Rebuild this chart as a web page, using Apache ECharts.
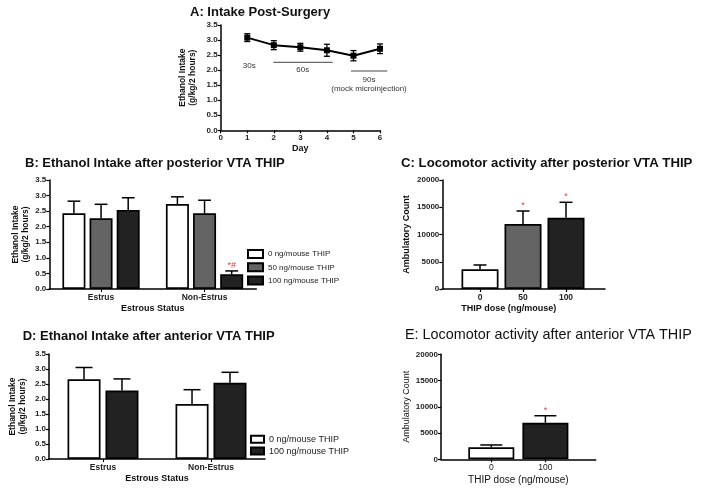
<!DOCTYPE html>
<html><head><meta charset="utf-8">
<script src="https://cdn.jsdelivr.net/npm/echarts@6/dist/echarts.min.js"></script>
<style>html,body{margin:0;padding:0;background:#fff}#c{width:704px;height:493px}</style>
</head><body><div id="c"></div>
<script>
// ---- Panel A: intake post-surgery ----
const daysA = [1, 2, 3, 4, 5, 6];
const intakeA = [3.08, 2.83, 2.76, 2.66, 2.48, 2.71];
const errA = [0.13, 0.15, 0.13, 0.20, 0.17, 0.16];
// ---- Panel B: ethanol intake after posterior VTA THIP ----
const statusCats = ['Estrus', 'Non-Estrus'];
const doseNamesB = ['0 ng/mouse THIP', '50 ng/mouse THIP', '100 ng/mouse THIP'];
const b0 = [2.43, 2.73], b0err = [0.39, 0.23];
const b50 = [2.27, 2.43], b50err = [0.45, 0.42];
const b100 = [2.54, 0.47], b100err = [0.39, 0.11];
const sigB100 = ['', '*#'];
// ---- Panel C: locomotor after posterior VTA THIP ----
const doseCatsC = ['0', '50', '100'];
const locoC = [3615, 11930, 13080];
const locoCerr = [790, 2380, 2830];
const sigC = ['', '*', '*'];
// ---- Panel D: ethanol intake after anterior VTA THIP ----
const doseNamesD = ['0 ng/mouse THIP', '100 ng/mouse THIP'];
const d0 = [2.66, 1.83], d0err = [0.39, 0.48];
const d100 = [2.28, 2.54], d100err = [0.39, 0.35];
// ---- Panel E: locomotor after anterior VTA THIP ----
const doseCatsE = ['0', '100'];
const locoE = [2290, 6970];
const locoEerr = [440, 1330];
const sigE = ['', '*'];

const FONT = 'Liberation Sans, Arial, sans-serif';
const FILL = ['#ffffff', '#646464', '#222222'];
const RED = '#e8403a';

function errRender(offsetPx, capHalf, sig) {
  return function (params, api) {
    const x = api.value(0), v = api.value(1), e = api.value(2);
    const top = api.coord([x, v + e]);
    const base = api.coord([x, v]);
    const cx = top[0] + offsetPx;
    const ls = { stroke: '#000', lineWidth: 1.5 };
    const ch = [
      { type: 'line', shape: { x1: cx, y1: base[1], x2: cx, y2: top[1] }, style: ls },
      { type: 'line', shape: { x1: cx - capHalf, y1: top[1], x2: cx + capHalf, y2: top[1] }, style: ls }
    ];
    const s = sig && sig[params.dataIndex];
    if (s) ch.push({ type: 'text', style: { text: s, x: cx, y: top[1] - 1, align: 'center', verticalAlign: 'bottom', fill: RED, font: '9px ' + FONT } });
    return { type: 'group', children: ch };
  };
}
function errBoth(params, api) {
  const x = api.value(0), v = api.value(1), e = api.value(2);
  const hi = api.coord([x, v + e]), lo = api.coord([x, v - e]);
  const ls = { stroke: '#000', lineWidth: 1.3 };
  return { type: 'group', children: [
    { type: 'line', shape: { x1: hi[0], y1: hi[1], x2: lo[0], y2: lo[1] }, style: ls },
    { type: 'line', shape: { x1: hi[0] - 3, y1: hi[1], x2: hi[0] + 3, y2: hi[1] }, style: ls },
    { type: 'line', shape: { x1: lo[0] - 3, y1: lo[1], x2: lo[0] + 3, y2: lo[1] }, style: ls }
  ] };
}

const axLine = { show: true, onZero: false, lineStyle: { color: '#000', width: 1.5 } };
const axTick = { show: true, length: 3, lineStyle: { color: '#000', width: 1.2 } };
const lblB = { fontFamily: FONT, fontWeight: 'bold', fontSize: 8, color: '#222', margin: 3 };
const nameB = (size, weight) => ({ fontFamily: FONT, fontWeight: weight || 'bold', fontSize: size, color: '#111', lineHeight: size + 1.5 });
const fmt1 = v => v.toFixed(1);
const fmt0 = v => String(v);

function yAx(gi, max, interval, name, gap, nsize, nweight, f) {
  return { type: 'value', gridIndex: gi, min: 0, max: max, interval: interval,
    axisLine: axLine, axisTick: axTick, splitLine: { show: false },
    axisLabel: Object.assign({}, lblB, { formatter: f }), name: name, nameLocation: 'middle', nameGap: gap, nameRotate: 90,
    nameTextStyle: nameB(nsize || 8.5, nweight) };
}

const grids = [
  { left: 220.7, top: 25, width: 159.3, height: 105.3 },
  { left: 49.3, top: 180, width: 207, height: 109 },
  { left: 442.3, top: 180, width: 162.7, height: 109 },
  { left: 49, top: 354, width: 216, height: 105 },
  { left: 441, top: 354.3, width: 154.7, height: 105 }
].map(g => Object.assign(g, { containLabel: false, outerBoundsMode: 'none' }));

const tStyle = (size, weight) => ({ fontFamily: FONT, fontWeight: weight, fontSize: size, color: '#111' });
const option = {
  animation: false,
  backgroundColor: '#fff',
  title: [
    { text: 'A: Intake Post-Surgery', left: 190, top: 6, padding: 0, textStyle: tStyle(13, 'bold') },
    { text: 'B: Ethanol Intake after posterior VTA THIP', left: 25, top: 157, padding: 0, textStyle: tStyle(13, 'bold') },
    { text: 'C: Locomotor activity after posterior VTA THIP', left: 401, top: 157, padding: 0, textStyle: tStyle(13.2, 'bold') },
    { text: 'D: Ethanol Intake after anterior VTA THIP', left: 22.7, top: 329.5, padding: 0, textStyle: tStyle(13, 'bold') },
    { text: 'E: Locomotor activity after anterior VTA THIP', left: 405, top: 328.5, padding: 0, textStyle: tStyle(14.4, 'normal') }
  ],
  legend: [
    { data: doseNamesB, orient: 'vertical', left: 247, top: 248.5, itemWidth: 15, itemHeight: 8, itemGap: 2.3, icon: 'rect',
      textStyle: { fontFamily: FONT, fontSize: 8, color: '#222', lineHeight: 11 }, selectedMode: false, padding: 0 },
    { data: doseNamesD.map(n => n + ' '), orient: 'vertical', left: 250, top: 434, itemWidth: 13, itemHeight: 7, itemGap: 1, icon: 'rect',
      textStyle: { fontFamily: FONT, fontSize: 9, color: '#222', lineHeight: 10.7 }, selectedMode: false, padding: 0 }
  ],
  grid: grids,
  xAxis: [
    { type: 'value', gridIndex: 0, min: 0, max: 6, interval: 1, axisLine: axLine, axisTick: axTick, splitLine: { show: false },
      axisLabel: lblB, name: 'Day', nameLocation: 'middle', nameGap: 13, nameTextStyle: nameB(9) },
    { type: 'category', gridIndex: 1, data: statusCats, axisLine: axLine, axisTick: { show: true, alignWithLabel: true, length: 3, lineStyle: { color: '#000' } },
      axisLabel: Object.assign({}, lblB, { fontSize: 8.5, margin: 4 }), name: 'Estrous Status', nameLocation: 'middle', nameGap: 13, nameTextStyle: nameB(9) },
    { type: 'value', gridIndex: 2, min: -0.877, max: 2.907, axisLine: axLine, splitLine: { show: false },
      axisTick: Object.assign({}, axTick, { customValues: [0, 1, 2] }),
      axisLabel: Object.assign({}, lblB, { fontSize: 8.5, margin: 4, customValues: [0, 1, 2], formatter: v => doseCatsC[Math.round(v)] }),
      name: 'THIP dose (ng/mouse)', nameLocation: 'middle', nameGap: 13.5, nameTextStyle: Object.assign(nameB(9), { padding: [0, 30, 0, 0] }) },
    { type: 'category', gridIndex: 3, data: statusCats, axisLine: axLine, axisTick: { show: true, alignWithLabel: true, length: 3, lineStyle: { color: '#000' } },
      axisLabel: Object.assign({}, lblB, { fontSize: 8.5, margin: 4 }), name: 'Estrous Status', nameLocation: 'middle', nameGap: 12.5, nameTextStyle: nameB(9) },
    { type: 'value', gridIndex: 4, min: -0.93, max: 1.93, axisLine: axLine, splitLine: { show: false },
      axisTick: Object.assign({}, axTick, { customValues: [0, 1] }),
      axisLabel: Object.assign({}, lblB, { fontSize: 8.5, margin: 4, fontWeight: 'normal', customValues: [0, 1], formatter: v => doseCatsE[Math.round(v)] }),
      name: 'THIP dose (ng/mouse)', nameLocation: 'middle', nameGap: 15, nameTextStyle: nameB(10, 'normal') }
  ],
  yAxis: [
    yAx(0, 3.5, 0.5, 'Ethanol Intake\n(g/kg/2 hours)', 22.7, 8.5, 'bold', fmt1),
    yAx(1, 3.5, 0.5, 'Ethanol Intake\n(g/kg/2 hours)', 19, 8.5, 'bold', fmt1),
    yAx(2, 20000, 5000, 'Ambulatory Count', 31, 9, 'bold', fmt0),
    yAx(3, 3.5, 0.5, 'Ethanol Intake\n(g/kg/2 hours)', 21, 8.5, 'bold', fmt1),
    yAx(4, 20000, 5000, 'Ambulatory Count', 24.5, 9, 'normal', fmt0)
  ],
  graphic: [
    { type: 'line', shape: { x1: 273.3, y1: 62.3, x2: 332.7, y2: 62.3 }, style: { stroke: '#444', lineWidth: 1 } },
    { type: 'line', shape: { x1: 351, y1: 71, x2: 387.3, y2: 71 }, style: { stroke: '#444', lineWidth: 1 } },
    { type: 'text', style: { text: '30s', x: 249.3, y: 65.7, align: 'center', verticalAlign: 'middle', fill: '#333', font: '8px ' + FONT } },
    { type: 'text', style: { text: '60s', x: 302.7, y: 70, align: 'center', verticalAlign: 'middle', fill: '#333', font: '8px ' + FONT } },
    { type: 'text', style: { text: '90s', x: 369, y: 79.3, align: 'center', verticalAlign: 'middle', fill: '#333', font: '8px ' + FONT } },
    { type: 'text', style: { text: '(mock microinjection)', x: 369, y: 89, align: 'center', verticalAlign: 'middle', fill: '#333', font: '8px ' + FONT } }
  ],
  series: []
};

const S = option.series;
// A
S.push({ type: 'line', xAxisIndex: 0, yAxisIndex: 0, data: daysA.map((d, i) => [d, intakeA[i]]),
  symbol: 'rect', symbolSize: 6, itemStyle: { color: '#000' }, lineStyle: { color: '#000', width: 2 }, z: 3 });
S.push({ type: 'custom', xAxisIndex: 0, yAxisIndex: 0, renderItem: errBoth, encode: { x: 0, y: 1 },
  data: daysA.map((d, i) => [d, intakeA[i], errA[i]]), z: 4 });
// B
const bVals = [b0, b50, b100], bErrs = [b0err, b50err, b100err];
const bW = 23, bGap = 0.18;
bVals.forEach((vals, k) => {
  S.push({ type: 'bar', name: doseNamesB[k], xAxisIndex: 1, yAxisIndex: 1, data: vals, barWidth: bW, barGap: (bGap * 100) + '%',
    itemStyle: { color: FILL[k], borderColor: '#000', borderWidth: 1.7 }, z: 2 });
  S.push({ type: 'custom', xAxisIndex: 1, yAxisIndex: 1, encode: { x: 0, y: 1 },
    renderItem: errRender((k - 1) * bW * (1 + bGap), bW / 3.6, k === 2 ? sigB100 : null),
    data: vals.map((v, i) => [i, v, bErrs[k][i]]), z: 3 });
});
// C
S.push({ type: 'bar', xAxisIndex: 2, yAxisIndex: 2, data: locoC.map((v, i) => ({ value: [i, v], itemStyle: { color: FILL[i] } })),
  barWidth: 37, itemStyle: { borderColor: '#000', borderWidth: 1.7 }, z: 2 });
S.push({ type: 'custom', xAxisIndex: 2, yAxisIndex: 2, encode: { x: 0, y: 1 }, renderItem: errRender(0, 6.5, sigC),
  data: locoC.map((v, i) => [i, v, locoCerr[i]]), z: 3 });
// D
const dVals = [d0, d100], dErrs = [d0err, d100err], dFill = [FILL[0], FILL[2]];
const dW = 33, dGap = 0.15;
dVals.forEach((vals, k) => {
  S.push({ type: 'bar', name: doseNamesD[k] + ' ', xAxisIndex: 3, yAxisIndex: 3, data: vals, barWidth: dW, barGap: (dGap * 100) + '%',
    itemStyle: { color: dFill[k], borderColor: '#000', borderWidth: 1.7 }, z: 2 });
  S.push({ type: 'custom', xAxisIndex: 3, yAxisIndex: 3, encode: { x: 0, y: 1 },
    renderItem: errRender((k - 0.5) * dW * (1 + dGap), 8.5, null),
    data: vals.map((v, i) => [i, v, dErrs[k][i]]), z: 3 });
});
// E
const eFill = [FILL[0], FILL[2]];
S.push({ type: 'bar', xAxisIndex: 4, yAxisIndex: 4, data: locoE.map((v, i) => ({ value: [i, v], itemStyle: { color: eFill[i] } })),
  barWidth: 46, itemStyle: { borderColor: '#000', borderWidth: 1.7 }, z: 2 });
S.push({ type: 'custom', xAxisIndex: 4, yAxisIndex: 4, encode: { x: 0, y: 1 }, renderItem: errRender(0, 11, sigE),
  data: locoE.map((v, i) => [i, v, locoEerr[i]]), z: 3 });

const chart = echarts.init(document.getElementById('c'), null, { renderer: 'canvas' });
chart.setOption(option);
</script></body></html>
